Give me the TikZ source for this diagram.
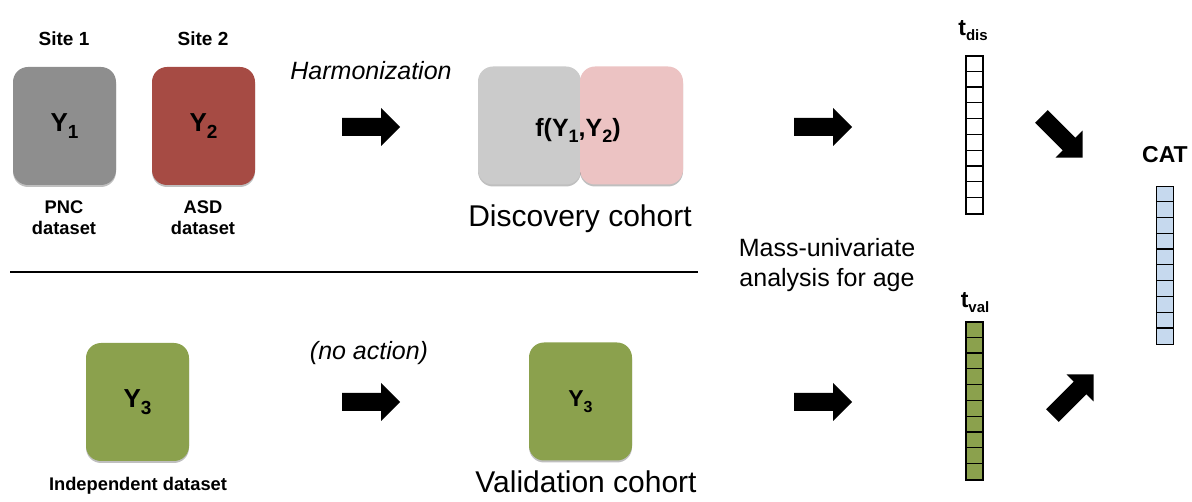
\documentclass[tikz,border=0pt]{standalone}
\usepackage{fontspec}
\setmainfont{Liberation Sans}
\usetikzlibrary{shadows}
\definecolor{boxgray}{HTML}{8E8E8E}
\definecolor{boxred}{HTML}{A64B44}
\definecolor{lightgray}{HTML}{CBCBCB}
\definecolor{lightpink}{HTML}{ECC3C3}
\definecolor{boxgreen}{HTML}{8BA14D}
\definecolor{cellblue}{HTML}{C6D9EE}
\newcommand{\fsz}[2]{\fontsize{#1}{#2}\selectfont}
\newcommand{\lsub}[3]{\raisebox{-#2pt}{\fontsize{#1}{#1}\selectfont #3}}
\newcommand{\blkarrow}[3]{\fill[black,shift={(#1,#2)},rotate=#3] (-29,-9) -- (10,-9) -- (10,-19) -- (29,0) -- (10,19) -- (10,9) -- (-29,9) -- cycle;}
\tikzset{
  databox/.style={rounded corners=15, minimum width=103, minimum height=118, inner sep=0,
    drop shadow={shadow xshift=0pt, shadow yshift=-2pt, opacity=0.25, fill=black}},
  boxtext/.style={font=\fsz{26}{30}\bfseries},
  smallbold/.style={font=\fsz{18.3}{21}\bfseries, align=center, inner sep=0},
  sitelabel/.style={font=\fsz{19}{22}\bfseries, inner sep=0},
  italiclabel/.style={font=\fsz{25}{28}\itshape, inner sep=0},
  cohortlabel/.style={font=\fsz{30}{34}, inner sep=0},
  vector/.style={draw=black, line width=1.2, minimum width=17, minimum height=158, inner sep=0},
  veclabel/.style={font=\fsz{23}{26}\bfseries, inner sep=0}
}
\begin{document}
\begin{tikzpicture}[x=1pt,y=-1pt]
\useasboundingbox (0,0) rectangle (1192,502);
% top row
\node[sitelabel] (site1) at (64,39) {Site 1};
\node[sitelabel] (site2) at (203,39) {Site 2};
\node[databox, fill=boxgray] (y1) at (64.5,126) {};
\node[boxtext] at (y1.center) {Y\lsub{19}{7}{1}};
\node[databox, fill=boxred] (y2) at (203.5,126) {};
\node[boxtext] at (y2.center) {Y\lsub{19}{7}{2}};
\node[smallbold] (pnc) at (64,218) {PNC\\dataset};
\node[smallbold] (asd) at (203,218) {ASD\\dataset};
\node[italiclabel] (harm) at (371,71) {Harmonization};
\blkarrow{371}{127}{0}
\node[databox, fill=lightgray] (f1) at (529.5,125.5) {};
\node[databox, fill=lightpink] (f2) at (631.5,125.5) {};
\node[font=\fsz{25}{28}\bfseries, inner sep=0] (fy) at (578,130) {f(Y\lsub{18}{6}{1},Y\lsub{18}{6}{2})};
\node[cohortlabel] (disc) at (580,219) {Discovery cohort};
\blkarrow{823}{127}{0}
% divider
\coordinate (lineL) at (10,272);
\coordinate (lineR) at (698,272);
\draw[line width=2] (lineL) -- (lineR);
\node[font=\fsz{25}{30}, align=center, inner sep=0] (mass) at (827,265) {Mass-univariate\\analysis for age};
% bottom row
\node[databox, fill=boxgreen] (y3) at (137.5,402) {};
\node[boxtext] at (y3.center) {Y\lsub{19}{7}{3}};
\node[smallbold] (indep) at (138,486) {Independent dataset};
\node[italiclabel] (noact) at (369,353) {(no action)};
\blkarrow{371}{402}{0}
\node[databox, fill=boxgreen] (y3b) at (580.5,401.5) {};
\node[font=\fsz{23}{26}\bfseries, inner sep=0] at (y3b.center) {Y\lsub{16}{6}{3}};
\node[cohortlabel] (valid) at (586,482) {Validation cohort};
\blkarrow{823}{402}{0}
% vectors
\node[vector, fill=white] (tdis) at (974.5,135) {};
\foreach \i in {1,...,9} \draw[line width=1.2] (tdis.north west) ++(0,\i*15.8) -- ++(17,0);
\node[veclabel] (tdislab) at (973,31) {t\lsub{15}{5}{dis}};
\node[vector, fill=boxgreen] (tval) at (974.5,401) {};
\foreach \i in {1,...,9} \draw[line width=1.2] (tval.north west) ++(0,\i*15.8) -- ++(17,0);
\node[veclabel] (tvallab) at (975,303) {t\lsub{15}{5}{val}};
\node[vector, fill=cellblue] (cat) at (1165,265.5) {};
\foreach \i in {1,...,9} \draw[line width=1.2] (cat.north west) ++(0,\i*15.8) -- ++(17,0);
\node[font=\fsz{23}{27}\bfseries, inner sep=0] (catlab) at (1165,155) {CAT};
\blkarrow{1062}{137}{-45}
\blkarrow{1073}{395}{45}
\end{tikzpicture}
\end{document}
